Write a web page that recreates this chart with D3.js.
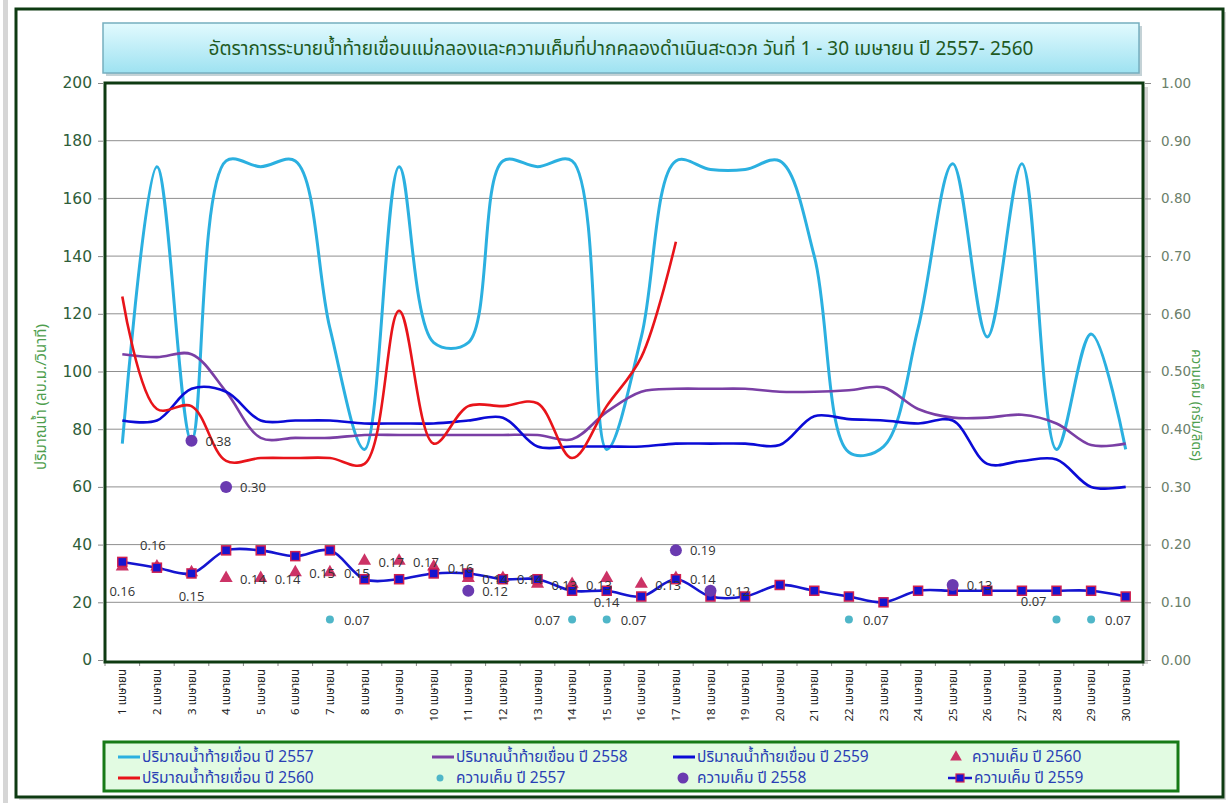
<!DOCTYPE html>
<html><head><meta charset="utf-8">
<script src="https://cdn.jsdelivr.net/npm/d3@7"></script>
<style>body{margin:0;background:#fff} svg{display:block}</style>
</head><body><svg id="c" width="1231" height="803"></svg>
<script>
const categories = ["1 เมษายน","2 เมษายน","3 เมษายน","4 เมษายน","5 เมษายน","6 เมษายน","7 เมษายน","8 เมษายน","9 เมษายน","10 เมษายน",
"11 เมษายน","12 เมษายน","13 เมษายน","14 เมษายน","15 เมษายน","16 เมษายน","17 เมษายน","18 เมษายน","19 เมษายน","20 เมษายน",
"21 เมษายน","22 เมษายน","23 เมษายน","24 เมษายน","25 เมษายน","26 เมษายน","27 เมษายน","28 เมษายน","29 เมษายน","30 เมษายน"];
const leftTicks = [0,20,40,60,80,100,120,140,160,180,200];
const rightTicks = [0,0.1,0.2,0.3,0.4,0.5,0.6,0.7,0.8,0.9,1.0];

const flow2557 = [75,171,76,173,171,173,115,73,171,110,110,173,171,173,73,112,173,170,170,173,140,72,74,115,172,112,172,73,113,73];
const flow2558 = [106,105,106,93,77,77,77,78,78,78,78,78,78,76.5,86,93,94,94,94,93,93,93.5,94.5,87,84,84,85,82,74.5,75];
const flow2559 = [83,83,94,93,83,83,83,82,82,82,83,84,74,74,74,74,75,75,75,74.5,84.5,83.5,83,82,83,68,69,69.5,60,60];
const flow2560 = [126,87,88,69,70,70,70,68,121,75,88,88,89,70,88,105,145];

const sal2557 = [null,null,null,null,null,null,0.07,null,null,null,null,null,null,0.07,0.07,null,null,null,null,null,null,0.07,null,null,null,null,null,0.07,0.07,null];
const sal2558 = [null,null,0.38,0.30,null,null,null,null,null,null,0.12,null,null,null,null,null,0.19,0.12,null,null,null,null,null,null,0.13,null,null,null,null,null];
const sal2559 = [0.17,0.16,0.15,0.19,0.19,0.18,0.19,0.14,0.14,0.15,0.15,0.14,0.14,0.12,0.12,0.11,0.14,0.11,0.11,0.13,0.12,0.11,0.10,0.12,0.12,0.12,0.12,0.12,0.12,0.11];
const sal2560 = [0.16,0.16,0.15,0.14,0.14,0.15,0.15,0.17,0.17,0.16,0.14,0.14,0.13,0.13,0.14,0.13,0.14];

// label placement keywords (style, not data)
const place2560 = ["below","above","below","right","right","right","right","right","right","right","right","right","right","right","below","right","right"];
const place2557 = {6:"right",13:"left",14:"right",21:"right",27:"aboveLeft",28:"right"};

const titleText = "อัตราการระบายน้ำท้ายเขื่อนแม่กลองและความเค็มที่ปากคลองดำเนินสะดวก  วันที่  1 - 30 เมษายน ปี 2557- 2560";
const leftTitle = "ปริมาณน้ำ (ลบ.ม./วินาที)";
const rightTitle = "ความเค็ม (กรัม/ลิตร)";
const legendItems = [
  {t:"ปริมาณน้ำท้ายเขื่อน ปี 2557", k:"line", c:"#2BB0E0"},
  {t:"ปริมาณน้ำท้ายเขื่อน ปี 2558", k:"line", c:"#7A3FA5"},
  {t:"ปริมาณน้ำท้ายเขื่อน ปี 2559", k:"line", c:"#0B0BD6"},
  {t:"ความเค็ม ปี 2560", k:"tri", c:"#CC3366"},
  {t:"ปริมาณน้ำท้ายเขื่อน ปี 2560", k:"line", c:"#E8141A"},
  {t:"ความเค็ม ปี 2557", k:"dot", c:"#4FB6C8"},
  {t:"ความเค็ม ปี 2558", k:"circ", c:"#6A3AB0"},
  {t:"ความเค็ม ปี 2559", k:"sq", c:"#1515D0"}
];

const thai = "'Tahoma','Noto Sans Thai','Noto Sans Thai UI','Leelawadee UI','Loma','Garuda','Noto Sans',sans-serif";
const numF = "'DejaVu Sans','Verdana',sans-serif";
const lblF = "'Open Sans','Liberation Sans',sans-serif";

const svg = d3.select("#c");
const defs = svg.append("defs");
const tg = defs.append("linearGradient").attr("id","tg").attr("x1",0).attr("y1",0).attr("x2",0).attr("y2",1);
tg.append("stop").attr("offset","0%").attr("stop-color","#E2FAFE");
tg.append("stop").attr("offset","100%").attr("stop-color","#9EE2F1");

// page decorations
svg.append("rect").attr("x",3).attr("y",0).attr("width",5).attr("height",803).attr("fill","#D6D6D6");
svg.append("rect").attr("x",19).attr("y",12).attr("width",1207).attr("height",788).attr("fill","#dadada");
svg.append("rect").attr("x",16).attr("y",9).attr("width",1207).attr("height",788).attr("fill","#fff").attr("stroke","#0E3B12").attr("stroke-width",3);

// title box
svg.append("rect").attr("x",106).attr("y",26).attr("width",1036).attr("height",50).attr("fill","#c4d2d6");
svg.append("rect").attr("x",103).attr("y",23).attr("width",1036).attr("height",50).attr("fill","url(#tg)").attr("stroke","#76AEBF").attr("stroke-width",1.5);
svg.append("text").attr("x",621).attr("y",55).attr("text-anchor","middle").attr("font-family",thai).attr("font-size",19).attr("fill","#1F5A1F").text(titleText);

const pl=105, pr=1143, pt=83, pb=660;
const xb = d3.scaleBand().domain(categories).range([pl,pr]);
const x = d3.scalePoint().domain(categories).range([pl,pr]).padding(0.5);
const yL = d3.scaleLinear().domain([0,200]).range([pb,pt]);
const yR = d3.scaleLinear().domain([0,1]).range([pb,pt]);

// plot shadow + background
svg.append("rect").attr("x",pr+1).attr("y",pt+4).attr("width",4).attr("height",pb-pt).attr("fill","#d4d4d4");
svg.append("rect").attr("x",pl).attr("y",pt).attr("width",pr-pl).attr("height",pb-pt).attr("fill","#fff");

// grid
svg.append("g").selectAll("line").data(leftTicks.filter(d=>d>0&&d<200)).join("line")
  .attr("x1",pl).attr("x2",pr).attr("y1",d=>yL(d)).attr("y2",d=>yL(d)).attr("stroke","#8f8f8f").attr("stroke-width",1);

// axes
const ax = svg.append("g").attr("transform",`translate(${pl-2},0)`).call(d3.axisLeft(yL).tickValues(leftTicks).tickSize(5).tickPadding(6).tickFormat(d3.format("d")));
ax.select(".domain").remove();
ax.selectAll("line").attr("stroke","#888");
ax.selectAll("text").attr("font-family",numF).attr("font-size",15.5).attr("fill","#2E5E3A");
const ar = svg.append("g").attr("transform",`translate(${pr+2},0)`).call(d3.axisRight(yR).tickValues(rightTicks).tickSize(6).tickPadding(10).tickFormat(d3.format(".2f")));
ar.select(".domain").remove();
ar.selectAll("line").attr("stroke","#888");
ar.selectAll("text").attr("font-family",numF).attr("font-size",13.5).attr("fill","#6B806B");

// x ticks at boundaries
const bounds = categories.map(c=>xb(c)).concat([pr]);
svg.append("g").selectAll("line").data(bounds).join("line")
  .attr("x1",d=>d).attr("x2",d=>d).attr("y1",pb+1).attr("y2",pb+6).attr("stroke","#888");
svg.append("g").selectAll("text").data(categories).join("text")
  .attr("transform",d=>`translate(${x(d)+4},${pb+9}) rotate(-90)`)
  .attr("text-anchor","end").attr("font-family",thai).attr("font-size",11.5).attr("fill","#222").text(d=>d);

// axis titles
svg.append("text").attr("transform","translate(46,397) rotate(-90)").attr("text-anchor","middle")
  .attr("font-family",thai).attr("font-size",15).attr("fill","#4E9E4E").text(leftTitle);
svg.append("text").attr("transform","translate(1192,405) rotate(90)").attr("text-anchor","middle")
  .attr("font-family",thai).attr("font-size",13.5).attr("fill","#4E9E4E").text(rightTitle);

// flow lines
const curve = d3.curveCatmullRom.alpha(0.5);
function flowLine(arr,color,w){
  const line = d3.line().x((d,i)=>x(categories[i])).y(d=>yL(d)).curve(curve).defined(d=>d!=null);
  svg.append("path").datum(arr).attr("d",line).attr("fill","none").attr("stroke",color).attr("stroke-width",w).attr("stroke-linejoin","round");
}
flowLine(flow2557,"#2BB0E0",3);
flowLine(flow2558,"#7A3FA5",2.6);
flowLine(flow2559,"#0B0BD6",2.6);
flowLine(flow2560,"#E8141A",2.6);

// salinity 2559 line
const sline = d3.line().x((d,i)=>x(categories[i])).y(d=>yR(d)).curve(curve);
svg.append("path").datum(sal2559).attr("d",sline).attr("fill","none").attr("stroke","#1515D0").attr("stroke-width",2.6);

// triangles 2560
const tri = d3.symbol().type(d3.symbolTriangle).size(75);
svg.append("g").selectAll("path").data(sal2560).join("path")
  .attr("d",tri).attr("transform",(d,i)=>`translate(${x(categories[i])},${yR(d)-1})`).attr("fill","#CC3366");

// squares 2559
svg.append("g").selectAll("rect").data(sal2559).join("rect")
  .attr("x",(d,i)=>x(categories[i])-4.5).attr("y",d=>yR(d)-4.5).attr("width",9).attr("height",9)
  .attr("fill","#1515D0").attr("stroke","#D02050").attr("stroke-width",1.5);

// circles 2558
const s58 = sal2558.map((v,i)=>({v,i})).filter(d=>d.v!=null);
svg.append("g").selectAll("circle").data(s58).join("circle")
  .attr("cx",d=>x(categories[d.i])).attr("cy",d=>yR(d.v)).attr("r",6).attr("fill","#6A3AB0");
// dots 2557
const s57 = sal2557.map((v,i)=>({v,i})).filter(d=>d.v!=null);
svg.append("g").selectAll("circle").data(s57).join("circle")
  .attr("cx",d=>x(categories[d.i])).attr("cy",d=>yR(d.v)).attr("r",4).attr("fill","#4FB6C8");

// labels
const fmt = d3.format(".2f");
const lg = svg.append("g").attr("font-family",lblF).attr("font-size",13).attr("fill","#333");
function label(i,v,pos){
  const cx = x(categories[i]), cy = yR(v);
  let tx=cx+14, ty=cy+5, anchor="start";
  if(pos==="below"){tx=cx; ty=cy+28; anchor="middle";}
  if(pos==="above"){tx=cx-4; ty=cy-18; anchor="middle";}
  if(pos==="left"){tx=cx-12; anchor="end";}
  if(pos==="aboveLeft"){tx=cx-10; ty=cy-14; anchor="end";}
  lg.append("text").attr("x",tx).attr("y",ty).attr("text-anchor",anchor).text(fmt(v));
}
sal2560.forEach((v,i)=>label(i,v,place2560[i]));
s58.forEach(d=>label(d.i,d.v,"right"));
s57.forEach(d=>label(d.i,d.v,place2557[d.i]));

// plot frame
svg.append("rect").attr("x",pl).attr("y",pt).attr("width",pr-pl).attr("height",pb-pt+2).attr("fill","none").attr("stroke","#0E3B12").attr("stroke-width",3);

// legend
svg.append("rect").attr("x",104).attr("y",742).attr("width",1074).attr("height",49).attr("fill","#E2FBE2").attr("stroke","#167A16").attr("stroke-width",3);
const colX = [118,432,673,948];
const rowY = [757,778];
legendItems.forEach((it,k)=>{
  const cx = colX[k%4], cy = rowY[Math.floor(k/4)];
  const g = svg.append("g");
  let tx = cx+24;
  if(it.k==="line"){ g.append("line").attr("x1",cx).attr("x2",cx+22).attr("y1",cy).attr("y2",cy).attr("stroke",it.c).attr("stroke-width",3); }
  if(it.k==="tri"){ g.append("path").attr("d",d3.symbol().type(d3.symbolTriangle).size(60)()).attr("transform",`translate(${cx+8},${cy})`).attr("fill",it.c); }
  if(it.k==="dot"){ g.append("circle").attr("cx",cx+8).attr("cy",cy).attr("r",3.5).attr("fill",it.c); }
  if(it.k==="circ"){ g.append("circle").attr("cx",cx+10).attr("cy",cy).attr("r",5.5).attr("fill",it.c); }
  if(it.k==="sq"){ g.append("line").attr("x1",cx).attr("x2",cx+24).attr("y1",cy).attr("y2",cy).attr("stroke",it.c).attr("stroke-width",2.5);
    g.append("rect").attr("x",cx+8).attr("y",cy-4).attr("width",8).attr("height",8).attr("fill",it.c).attr("stroke","#D02050").attr("stroke-width",1.2); tx=cx+26; }
  g.append("text").attr("x",tx).attr("y",cy+5).attr("font-family",thai).attr("font-size",15.5).attr("fill","#2A3FB5").text(it.t);
});
</script></body></html>
